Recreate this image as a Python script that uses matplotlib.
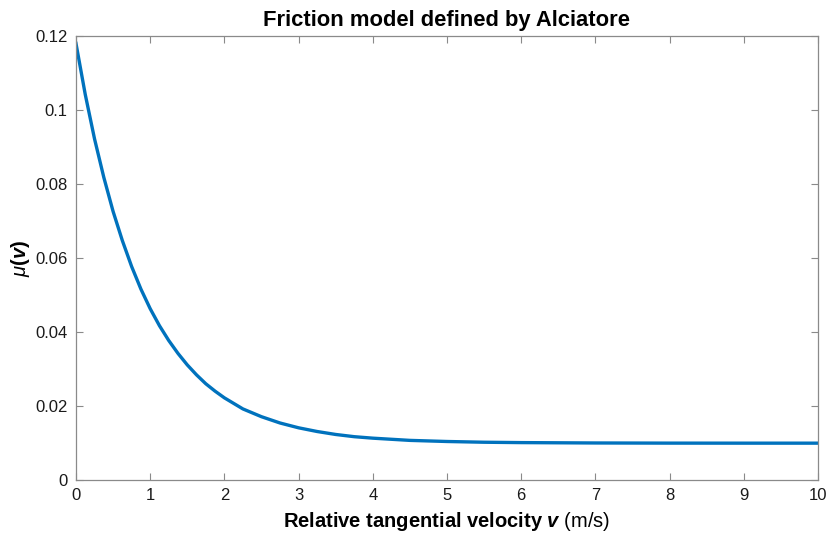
import numpy as np
import matplotlib
matplotlib.use("Agg")
from matplotlib import pyplot as plt

plt.rcParams['font.family'] = ['Liberation Sans', 'DejaVu Sans']
plt.rcParams['mathtext.fontset'] = 'custom'
plt.rcParams['mathtext.rm'] = 'Liberation Sans'
plt.rcParams['mathtext.it'] = 'Liberation Sans:italic'
plt.rcParams['mathtext.bf'] = 'Liberation Sans:bold'
plt.rcParams['mathtext.bfit'] = 'Liberation Sans:bold:italic'

# relative tangential velocity (m/s) and friction coefficient
velocity = [0, 0.125, 0.25, 0.375, 0.5, 0.625, 0.75, 0.875, 1.0, 1.125, 1.25, 1.375,
            1.5, 1.625, 1.75, 1.875, 2.0, 2.25, 2.5, 2.75, 3.0, 3.25, 3.5, 3.75,
            4.0, 4.5, 5.0, 5.5, 6.0, 7.0, 8.0, 9.0, 10.0]
mu = [0.1180, 0.1042, 0.0922, 0.0818, 0.0726, 0.0647, 0.0577, 0.0516, 0.0463,
      0.0417, 0.0377, 0.0342, 0.0311, 0.0284, 0.0260, 0.0240, 0.0222, 0.0192,
      0.0171, 0.0154, 0.0141, 0.0131, 0.0123, 0.0117, 0.0113, 0.0107, 0.0104,
      0.0102, 0.0101, 0.0100, 0.00996, 0.00995, 0.00995]

xticks = list(range(0, 11))
yticks = [0, 0.02, 0.04, 0.06, 0.08, 0.1, 0.12]
ytick_labels = ['0', '0.02', '0.04', '0.06', '0.08', '0.1', '0.12']

fig = plt.figure(figsize=(8.33, 5.41), dpi=100)
ax = fig.add_axes([0.0912, 0.1128, 0.8908, 0.8207])

ax.plot(velocity, mu, color='#0072BD', linewidth=2.4, solid_joinstyle='round')

ax.set_xlim(0, 10)
ax.set_ylim(0, 0.12)
ax.set_xticks(xticks)
ax.set_xticklabels([str(t) for t in xticks])
ax.set_yticks(yticks)
ax.set_yticklabels(ytick_labels)
ax.tick_params(direction='in', length=5, width=0.8, labelsize=12, color='#8a8a8a',
               labelcolor='#1a1a1a', top=True, right=True, pad=6)
for s in ax.spines.values():
    s.set_color('#8a8a8a')
    s.set_linewidth(0.9)

ax.set_title('Friction model defined by Alciatore', fontsize=15.8, fontweight='bold', pad=7)
ax.set_xlabel(r'$\mathbf{Relative\ tangential\ velocity}\ \boldsymbol{v}$ (m/s)',
              fontsize=14.5, labelpad=5)
ax.set_ylabel(r'$\mu\mathbf{(}\boldsymbol{v}\mathbf{)}$', fontsize=14.5, labelpad=2)

fig.savefig('out.png', dpi=100)
